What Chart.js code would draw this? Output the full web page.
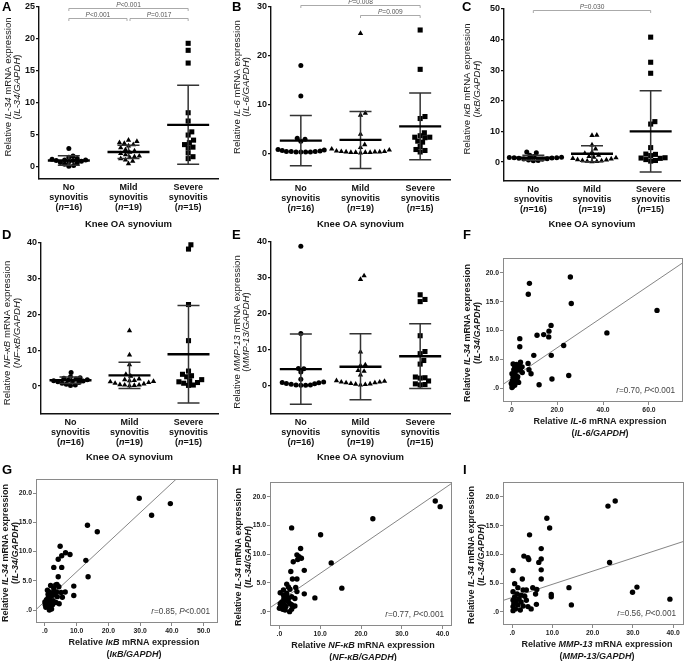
<!DOCTYPE html>
<html><head><meta charset="utf-8">
<script src="https://cdn.jsdelivr.net/npm/chart.js@4.4.0/dist/chart.umd.min.js"></script>
<style>
html,body{margin:0;padding:0;background:#fff;}
#wrap{position:relative;width:685px;height:661px;overflow:hidden;background:#fff;}
#wrap canvas{position:absolute;left:0;top:0;}
</style></head><body><div id="wrap"></div>
<script>
const FAMILY = "'Liberation Sans', Arial, Helvetica, sans-serif";
const W = 685, H = 661;

// ---------- categories ----------
const groupLabels = ['No', 'Mild', 'Severe'];
const groupWord = 'synovitis';
const groupN = [16, 19, 15];
const xGroupTitle = 'Knee OA synovium';

// ---------- A: IL-34 ----------
const aNo = [2.8, 1.6, 1.4, 1.2, 1.1, 1.0, 1.0, 0.9, 0.9, 0.8, 0.7, 0.6, 0.5, 0.3, 0.1, 0.0];
const aMild = [4.1, 3.9, 3.7, 3.6, 3.4, 3.2, 2.9, 2.6, 2.4, 2.2, 2.0, 1.8, 1.6, 1.5, 1.4, 1.2, 1.0, 0.8, 0.4];
const aSevere = [19.3, 18.2, 16.2, 8.4, 7.1, 5.4, 4.9, 4.1, 3.7, 3.4, 3.0, 2.9, 2.1, 1.5, 1.2];
const aMean = [0.9, 2.25, 6.5];
const aSD = [0.75, 1.05, 6.2];
const ticksA = [0, 5, 10, 15, 20, 25];
const aPairs = [[0, 2], [0, 1], [1, 2]];
const aP = ['<0.001', '<0.001', '=0.017'];

// ---------- B: IL-6 ----------
const bNo = [18.0, 11.8, 3.2, 3.0, 2.6, 0.9, 0.8, 0.7, 0.6, 0.5, 0.5, 0.4, 0.4, 0.4, 0.4, 0.5];
const bMild = [24.5, 8.3, 7.9, 4.0, 1.9, 1.3, 1.0, 0.8, 0.6, 0.5, 0.5, 0.4, 0.4, 0.4, 0.3, 0.3, 0.3, 0.3, 0.2];
const bSevere = [25.2, 17.2, 7.6, 7.2, 4.3, 3.7, 3.4, 3.4, 3.3, 2.6, 2.4, 1.5, 0.9, 0.7, 0.4];
const bMean = [2.7, 2.85, 5.6];
const bSD = [5.1, 5.8, 6.8];
const ticksB = [0, 10, 20, 30];
const bPairs = [[0, 2], [1, 2]];
const bP = ['=0.008', '=0.009'];

// ---------- C: IkB ----------
const cNo = [3.3, 3.0, 2.2, 1.8, 1.6, 1.5, 1.4, 1.4, 1.3, 1.2, 1.1, 1.0, 0.9, 0.7, 0.5, 0.4];
const cMild = [8.8, 8.7, 5.6, 4.3, 3.2, 2.8, 2.2, 1.8, 1.6, 1.4, 1.2, 1.0, 0.8, 0.7, 0.5, 0.4, 0.3, 0.2, 0.1];
const cSevere = [40.8, 32.6, 29.0, 13.2, 12.4, 4.7, 2.6, 2.5, 2.1, 1.4, 1.3, 1.2, 0.8, 0.5, 0.3];
const cMean = [1.4, 2.7, 10.0];
const cSD = [0.8, 2.6, 13.3];
const ticksC = [0, 10, 20, 30, 40, 50];
const cPairs = [[0, 2]];
const cP = ['=0.030'];

// ---------- D: NF-kB ----------
const dNo = [3.8, 2.6, 2.3, 2.2, 2.0, 1.8, 1.6, 1.5, 1.4, 1.3, 1.2, 1.0, 0.8, 0.5, 0.3, 0.2];
const dMild = [15.5, 8.7, 6.0, 3.3, 2.8, 2.0, 1.8, 1.6, 1.5, 1.3, 1.2, 1.0, 0.8, 0.6, 0.4, 0.3, 0.3, 0.2, 0.1];
const dSevere = [39.5, 38.3, 22.8, 12.7, 4.2, 3.3, 2.9, 2.6, 1.8, 1.5, 1.2, 1.0, 0.8, 0.3, 0.2];
const dMean = [1.65, 3.0, 8.9];
const dSD = [0.9, 3.7, 13.6];
const ticksD = [0, 10, 20, 30, 40];

// ---------- E: MMP-13 ----------
const eNo = [38.8, 14.5, 4.8, 4.7, 3.8, 1.8, 1.0, 0.8, 0.6, 0.4, 0.2, 0.1, 0.1, 0.2, 0.5, 0.9];
const eMild = [30.6, 29.6, 9.4, 5.8, 5.6, 4.2, 4.0, 3.0, 1.4, 1.2, 1.0, 0.8, 0.6, 0.4, 0.3, 0.2, 0.5, 0.8, 1.0];
const eSevere = [25.3, 24.0, 23.4, 13.9, 9.5, 8.9, 7.0, 6.0, 2.4, 2.2, 2.1, 1.3, 0.5, 0.3, 0.2];
const eMean = [4.6, 5.25, 8.2];
const eSD = [9.8, 9.2, 9.0];
const ticksE = [0, 10, 20, 30, 40];

// ---------- F: IL-34 vs IL-6 ----------
const fIL6 = [8.0, 7.5, 25.8, 26.2, 63.5, 41.7, 17.4, 16.5, 16.4, 14.2, 11.3, 3.8, 3.8, 22.9, 17.5, 9.9, 7.4, 7.8, 8.7, 25.1, 17.8, 12.2, 0.9, 2.3, 3.8, 4.8, 4.1, 4.9, 1.2, 0.4, 1.9, 0.9, 2.6, 0.6, 2.0, 1.2, 0.4, 1.6, 0.7, 0.4, 3.3, 1.2, 2.9, 0.9, 1.4, 0.1, 2.6, 3.5, 1.6, 4.1];
const fIL34 = [18.2, 16.3, 19.3, 14.7, 13.5, 9.6, 10.9, 9.9, 8.9, 9.3, 9.2, 8.6, 7.2, 7.4, 5.7, 5.7, 4.3, 3.2, 2.5, 2.2, 1.6, 0.6, 4.2, 4.1, 3.9, 3.7, 3.1, 2.7, 3.2, 2.5, 2.3, 1.9, 1.6, 1.3, 1.2, 0.9, 0.6, 0.5, 0.3, 0.1, 1.0, 1.6, 2.0, 1.0, 2.6, 0.8, 3.1, 3.7, 3.7, 4.5];
const fFit = [1.6, 0.27];
const fR = '0.70';
const xTicksF = [0, 20, 40, 60];

// ---------- G: IL-34 vs IkB ----------
const gIKB = [29.7, 39.5, 33.6, 13.4, 16.5, 12.9, 13.6, 4.8, 5.3, 4.2, 6.5, 7.9, 2.8, 5.3, 4.2, 3.8, 4.4, 9.1, 9.1, 6.4, 5.1, 5.5, 1.8, 3.4, 0.8, 1.4, 2.6, 3.1, 2.1, 1.0, 0.5, 1.6, 2.6, 3.5, 1.0, 0.3, 1.8, 0.7, 1.6, 0.3, 2.1, 1.4, 3.9, 0.0, 2.4, 3.7, 2.8, 1.0, 4.5, 0.1];
const gIL34 = [19.1, 18.2, 16.2, 14.5, 13.4, 8.5, 5.7, 10.9, 9.3, 8.7, 9.8, 9.5, 7.3, 7.3, 5.7, 4.4, 4.0, 4.1, 2.5, 3.1, 3.0, 2.2, 4.2, 4.3, 3.4, 3.1, 3.0, 2.6, 2.4, 2.1, 1.8, 1.7, 1.6, 1.3, 1.3, 1.0, 1.0, 0.7, 0.6, 0.5, 0.2, 0.0, 2.3, 1.4, 0.9, 3.1, 3.7, 2.7, 1.1, 0.9];
const gFit = [1.5, 0.505];
const gR = '0.85';
const xTicksG = [0, 10, 20, 30, 40, 50];

// ---------- H: IL-34 vs NF-kB ----------
const hNFKB = [38.2, 39.4, 22.9, 3.0, 10.1, 12.7, 15.3, 8.7, 5.2, 4.3, 4.8, 5.4, 4.5, 3.4, 6.1, 2.8, 3.2, 4.3, 4.0, 6.1, 0.2, 2.2, 2.6, 1.8, 1.0, 1.8, 1.4, 0.6, 0.2, 1.0, 2.2, 3.0, 3.4, 2.6, 1.6, 0.6, 0.0, 0.8, 2.5, 1.4, 2.2, 3.0, 3.8, 4.3, 1.1, 0.3, 1.8, 3.0, 3.8, 1.0];
const hIL34 = [19.3, 18.3, 16.2, 14.6, 13.4, 8.5, 4.1, 2.4, 11.0, 9.9, 9.6, 9.3, 9.1, 8.7, 7.2, 7.0, 5.7, 5.7, 4.2, 3.1, 3.3, 4.3, 3.9, 4.8, 2.9, 2.6, 2.0, 1.7, 1.4, 1.3, 1.7, 1.2, 0.9, 1.4, 0.9, 0.9, 0.6, 0.4, 0.0, 0.3, 2.3, 2.6, 2.3, 3.5, 2.3, 1.2, 3.2, 0.4, 1.0, 3.8];
const hFit = [1.8, 0.487];
const hR = '0.77';
const xTicksH = [0, 10, 20, 30, 40];

// ---------- I: IL-34 vs MMP-13 ----------
const iMMP13 = [25.6, 23.8, 8.6, 9.3, 4.3, 24.2, 7.2, 7.2, 2.9, 3.9, 4.1, 6.6, 7.2, 0.2, 2.5, 7.2, 5.1, 6.1, 14.1, 9.7, 9.7, 14.7, 31.0, 29.9, 39.2, 5.8, 6.0, 4.7, 3.9, 0.6, 1.4, 2.7, 3.5, 0.2, 1.2, 2.2, 3.1, 0.6, 1.7, 0.2, 1.0, 2.2, 0.4, 1.4, 2.7, 0.2, 0.8, 0.2, 2.0, 3.5];
const iIL34 = [19.3, 18.4, 16.3, 14.6, 13.4, 8.6, 11.0, 9.2, 9.7, 9.4, 9.1, 8.6, 7.3, 7.2, 5.7, 5.7, 4.2, 3.9, 4.2, 3.0, 2.6, 1.2, 4.3, 3.4, 2.2, 3.1, 1.3, 0.5, 0.9, 4.9, 4.2, 3.8, 3.8, 3.5, 3.1, 2.9, 2.7, 2.6, 2.3, 2.0, 1.9, 1.7, 1.4, 1.2, 1.0, 0.9, 0.5, 0.2, 0.3, 2.0];
const iFit = [2.5, 0.229];
const iR = '0.56';
const xTicksI = [0, 10, 20, 30, 40];

const yTicksScatter = [0, 5, 10, 15, 20];

// ---------- helpers ----------
function makeCanvas() {
  const c = document.createElement('canvas');
  c.width = W; c.height = H; c.style.width = W + 'px'; c.style.height = H + 'px';
  document.getElementById('wrap').appendChild(c);
  return c;
}
function segs(str) {
  const out = []; const re = /<i>(.*?)<\/i>/g; let last = 0, m;
  while ((m = re.exec(str))) {
    if (m.index > last) out.push({t: str.slice(last, m.index), i: false});
    out.push({t: m[1], i: true}); last = re.lastIndex;
  }
  if (last < str.length) out.push({t: str.slice(last), i: false});
  return out;
}
function drawRich(ctx, str, x, y, o) {
  const size = o.size || 9, bold = !!o.bold, color = o.color || '#111', align = o.align || 'center', rot = o.rot || 0;
  const ss = segs(str);
  const font = it => (it ? 'italic ' : '') + (bold ? 'bold ' : '') + size + 'px ' + FAMILY;
  let w = 0;
  ss.forEach(s => { ctx.font = font(s.i); s.w = ctx.measureText(s.t).width; w += s.w; });
  ctx.save();
  ctx.translate(x, y); ctx.rotate(rot);
  ctx.fillStyle = color; ctx.textBaseline = 'middle'; ctx.textAlign = 'left';
  let cx = align === 'center' ? -w / 2 : (align === 'right' ? -w : 0);
  ss.forEach(s => { ctx.font = font(s.i); ctx.fillText(s.t, cx, 0); cx += s.w; });
  ctx.restore();
}
function drawLetter(ctx, t, x, y) {
  ctx.save(); ctx.font = 'bold 13px ' + FAMILY; ctx.fillStyle = '#000';
  ctx.textBaseline = 'top'; ctx.textAlign = 'left'; ctx.fillText(t, x, y); ctx.restore();
}
function swarmOffsets(values, pxPerY, minDist, step) {
  const order = values.map((v, i) => i).sort((a, b) => values[a] - values[b]);
  const placed = []; const offs = new Array(values.length).fill(0);
  order.forEach(i => {
    const py = values[i] * pxPerY; let chosen = 0;
    for (let k = 0; k < 400; k++) {
      const cand = k === 0 ? 0 : (k % 2 ? 1 : -1) * Math.ceil(k / 2) * step;
      let ok = true;
      for (const p of placed) { const dx = p.x - cand, dy = p.y - py; if (dx * dx + dy * dy < minDist * minDist) { ok = false; break; } }
      if (ok) { chosen = cand; break; }
    }
    placed.push({x: chosen, y: py}); offs[i] = chosen;
  });
  return offs;
}

const SHAPES = ['circle', 'triangle', 'rect'];
const RADII = [2.5, 3.1, 3.6];
const SWARM_DIST = [4.3, 4.8, 4.8];

function dotChart(p) {
  const yW = 30, xH = 10;
  const pxPerY = (p.B - p.T) / (p.ymax - p.ymin);
  const pxPerX = (p.R - p.L) / 3;
  const datasets = p.groups.map((vals, g) => {
    const offs = swarmOffsets(vals, pxPerY, SWARM_DIST[g], 0.6);
    return {
      data: vals.map((v, i) => ({x: g + offs[i] / pxPerX, y: v})),
      pointStyle: SHAPES[g], pointRadius: RADII[g], pointHoverRadius: RADII[g],
      backgroundColor: '#000', borderColor: '#000', borderWidth: 0, clip: false
    };
  });
  new Chart(makeCanvas(), {
    type: 'scatter',
    data: {datasets},
    options: {
      responsive: false, animation: false, devicePixelRatio: 1, events: [],
      layout: {autoPadding: false, padding: {left: p.L - yW, right: W - p.R, top: p.T, bottom: H - p.B - xH}},
      plugins: {legend: {display: false}, tooltip: {enabled: false}},
      scales: {
        x: {type: 'linear', min: -0.5, max: 2.5, afterFit: s => { s.height = xH; },
            ticks: {display: false}, grid: {display: false},
            border: {display: true, color: '#111', width: 1.4}},
        y: {type: 'linear', min: p.ymin, max: p.ymax, afterFit: s => { s.width = yW; },
            afterBuildTicks: s => { s.ticks = p.yTicks.map(v => ({value: v})); },
            ticks: {font: {family: FAMILY, size: 9, weight: 'bold'}, color: '#111', padding: 1},
            grid: {display: true, drawOnChartArea: false, drawTicks: true, tickLength: 3, color: '#111', lineWidth: 1.2},
            border: {display: true, color: '#111', width: 1.4}}
      }
    },
    plugins: [{
      id: 'dotExtras',
      afterDatasetsDraw(chart) {
        const {ctx, scales: {x, y}} = chart;
        ctx.save();
        p.means.forEach((m, g) => {
          const cx = x.getPixelForValue(g), sd = p.sds[g];
          const yt = y.getPixelForValue(m + sd), yb = y.getPixelForValue(m - sd), ym = y.getPixelForValue(m);
          ctx.strokeStyle = '#333'; ctx.lineWidth = 1.5;
          ctx.beginPath();
          ctx.moveTo(cx, yt); ctx.lineTo(cx, yb);
          ctx.moveTo(cx - 11, yt); ctx.lineTo(cx + 11, yt);
          ctx.moveTo(cx - 11, yb); ctx.lineTo(cx + 11, yb);
          ctx.stroke();
          ctx.strokeStyle = '#000'; ctx.lineWidth = 2.4;
          ctx.beginPath(); ctx.moveTo(cx - 21, ym); ctx.lineTo(cx + 21, ym); ctx.stroke();
        });
        ctx.restore();
      },
      afterDraw(chart) {
        const {ctx, scales: {x, y}, chartArea: ca} = chart;
        groupLabels.forEach((lab, g) => {
          const cx = x.getPixelForValue(g);
          drawRich(ctx, lab, cx, ca.bottom + 9, {size: 9, bold: true, color: '#111'});
          drawRich(ctx, groupWord, cx, ca.bottom + 19, {size: 9, bold: true, color: '#111'});
          drawRich(ctx, '(<i>n</i>=' + groupN[g] + ')', cx, ca.bottom + 29, {size: 9, bold: true, color: '#111'});
        });
        drawRich(ctx, xGroupTitle, (ca.left + ca.right) / 2, p.kneeY, {size: 9.5, bold: true, color: '#111'});
        drawRich(ctx, p.title[0], p.tx[0], p.ty, {size: 9.6, color: '#1a1a1a', rot: -Math.PI / 2});
        drawRich(ctx, p.title[1], p.tx[1], p.ty, {size: 9.6, color: '#1a1a1a', rot: -Math.PI / 2});
        (p.pairs || []).forEach((pr, k) => {
          let x1 = x.getPixelForValue(pr[0]), x2 = x.getPixelForValue(pr[1]);
          const yy = Math.round(y.getPixelForValue(p.levels[k])) + 0.5;
          if (p.pairs.some((q, j) => j !== k && q[0] === pr[1] && p.levels[j] === p.levels[k])) x2 -= 1.5;
          if (p.pairs.some((q, j) => j !== k && q[1] === pr[0] && p.levels[j] === p.levels[k])) x1 += 1.5;
          ctx.save(); ctx.strokeStyle = '#a0a0a0'; ctx.lineWidth = 0.9;
          ctx.beginPath(); ctx.moveTo(x1, yy + 2.5); ctx.lineTo(x1, yy); ctx.lineTo(x2, yy); ctx.lineTo(x2, yy + 2.5); ctx.stroke();
          ctx.restore();
          drawRich(ctx, '<i>P</i>' + p.pv[k], (x1 + x2) / 2, yy - 3.8, {size: 6.6, color: '#555'});
        });
        drawLetter(ctx, p.letter, p.lx, p.ly);
      }
    }]
  });
}

function scatterChart(p) {
  const yW = 26, xH = 14;
  const fmt = v => v === 0 ? '.0' : v.toFixed(1);
  new Chart(makeCanvas(), {
    type: 'scatter',
    data: {datasets: [
      {data: p.xs.map((xv, i) => ({x: xv, y: p.ys[i]})), pointRadius: 2.7, pointHoverRadius: 2.7,
       backgroundColor: '#000', borderColor: '#000', borderWidth: 0, clip: false, order: 1},
      {type: 'line', data: [{x: p.xmin, y: p.fit[0] + p.fit[1] * p.xmin}, {x: p.xmax, y: p.fit[0] + p.fit[1] * p.xmax}],
       borderColor: '#777', borderWidth: 0.9, pointRadius: 0, fill: false, tension: 0, clip: 0, order: 2}
    ]},
    options: {
      responsive: false, animation: false, devicePixelRatio: 1, events: [],
      layout: {autoPadding: false, padding: {left: p.L - yW, right: W - p.R, top: p.T, bottom: H - p.B - xH}},
      plugins: {legend: {display: false}, tooltip: {enabled: false}},
      scales: {
        x: {type: 'linear', min: p.xmin, max: p.xmax, afterFit: s => { s.height = xH; },
            afterBuildTicks: s => { s.ticks = p.xTicks.map(v => ({value: v})); },
            ticks: {callback: fmt, font: {family: FAMILY, size: 6.8, weight: 'bold'}, color: '#222', padding: 1, maxRotation: 0},
            grid: {display: true, drawOnChartArea: false, drawTicks: true, tickLength: 3, color: '#888', lineWidth: 1},
            border: {display: false}},
        y: {type: 'linear', min: p.ymin, max: p.ymax, afterFit: s => { s.width = yW; },
            afterBuildTicks: s => { s.ticks = yTicksScatter.map(v => ({value: v})); },
            ticks: {callback: fmt, font: {family: FAMILY, size: 6.8, weight: 'bold'}, color: '#222', padding: 1},
            grid: {display: true, drawOnChartArea: false, drawTicks: true, tickLength: 3, color: '#888', lineWidth: 1},
            border: {display: false}}
      }
    },
    plugins: [{
      id: 'scatterExtras',
      afterDraw(chart) {
        const {ctx, chartArea: ca} = chart;
        ctx.save(); ctx.strokeStyle = '#8a8a8a'; ctx.lineWidth = 1;
        ctx.strokeRect(Math.round(ca.left) + 0.5, Math.round(ca.top) + 0.5, Math.round(ca.width) - 1, Math.round(ca.height) - 1);
        ctx.restore();
        drawRich(ctx, '<i>r</i>=' + p.r + ', <i>P</i><0.001', ca.right - 8, ca.bottom - 11, {size: 8.2, color: '#444', align: 'right'});
        drawRich(ctx, p.xTitle[0], p.xtx, ca.bottom + 20, {size: 9, bold: true, color: '#1a1a1a'});
        drawRich(ctx, p.xTitle[1], p.xtx, ca.bottom + 31.5, {size: 9, bold: true, color: '#1a1a1a'});
        drawRich(ctx, 'Relative <i>IL-34</i> mRNA expression', p.ytx[0], p.yty, {size: 9, bold: true, color: '#1a1a1a', rot: -Math.PI / 2});
        drawRich(ctx, '(<i>IL-34/GAPDH</i>)', p.ytx[1], p.yty, {size: 9, bold: true, color: '#1a1a1a', rot: -Math.PI / 2});
        drawLetter(ctx, p.letter, p.lx, p.ly);
      }
    }]
  });
}

// ---------- panels ----------
dotChart({L: 39, R: 218, T: 7, B: 179, ymin: -2, ymax: 25, yTicks: ticksA,
  groups: [aNo, aMild, aSevere], means: aMean, sds: aSD,
  title: ['Relative <i>IL-34</i> mRNA expression', '(<i>IL-34/GAPDH</i>)'], tx: [8, 17.5], ty: 87,
  pairs: aPairs, pv: aP, levels: [24.8, 23.2, 23.2], kneeY: 224, letter: 'A', lx: 2, ly: 1});

dotChart({L: 271, R: 450, T: 6, B: 180, ymin: -5.3, ymax: 30, yTicks: ticksB,
  groups: [bNo, bMild, bSevere], means: bMean, sds: bSD,
  title: ['Relative <i>IL-6</i> mRNA expression', '(<i>IL-6/GAPDH</i>)'], tx: [237, 246], ty: 87,
  pairs: bPairs, pv: bP, levels: [30.2, 28.2], kneeY: 224, letter: 'B', lx: 232, ly: 1});

dotChart({L: 504, R: 680, T: 9, B: 181, ymin: -6.2, ymax: 50, yTicks: ticksC,
  groups: [cNo, cMild, cSevere], means: cMean, sds: cSD,
  title: ['Relative <i>IκB</i> mRNA expression', '(<i>IκB/GAPDH</i>)'], tx: [467.5, 477], ty: 89,
  pairs: cPairs, pv: cP, levels: [49.7], kneeY: 224, letter: 'C', lx: 462, ly: 1});

dotChart({L: 41, R: 218, T: 243, B: 414, ymin: -7.8, ymax: 40, yTicks: ticksD,
  groups: [dNo, dMild, dSevere], means: dMean, sds: dSD,
  title: ['Relative <i>NF-κB</i> mRNA expression', '(<i>NF-κB/GAPDH</i>)'], tx: [7.5, 17], ty: 333,
  kneeY: 457, letter: 'D', lx: 2, ly: 229});

dotChart({L: 271, R: 450, T: 242, B: 414, ymin: -7.9, ymax: 40, yTicks: ticksE,
  groups: [eNo, eMild, eSevere], means: eMean, sds: eSD,
  title: ['Relative <i>MMP-13</i> mRNA expression', '(<i>MMP-13/GAPDH</i>)'], tx: [237, 246.5], ty: 332,
  kneeY: 457, letter: 'E', lx: 232, ly: 229});

scatterChart({L: 503, R: 683, T: 258, B: 402, xmin: -3.5, xmax: 74.8, ymin: -2.4, ymax: 22.6,
  xs: fIL6, ys: fIL34, fit: fFit, r: fR, xTicks: xTicksF,
  xTitle: ['Relative <i>IL-6</i> mRNA expression', '(<i>IL-6/GAPDH</i>)'], xtx: 600,
  ytx: [468, 478], yty: 333, letter: 'F', lx: 463, ly: 229});

scatterChart({L: 36, R: 218, T: 479, B: 623, xmin: -2.8, xmax: 54.5, ymin: -2.2, ymax: 22.4,
  xs: gIKB, ys: gIL34, fit: gFit, r: gR, xTicks: xTicksG,
  xTitle: ['Relative <i>IκB</i> mRNA expression', '(<i>IκB/GAPDH</i>)'], xtx: 134,
  ytx: [6, 15.5], yty: 553, letter: 'G', lx: 2, ly: 464});

scatterChart({L: 270, R: 452, T: 482, B: 626, xmin: -2.3, xmax: 42.3, ymin: -2.5, ymax: 22.6,
  xs: hNFKB, ys: hIL34, fit: hFit, r: hR, xTicks: xTicksH,
  xTitle: ['Relative <i>NF-κB</i> mRNA expression', '(<i>NF-κB/GAPDH</i>)'], xtx: 363,
  ytx: [239, 248.5], yty: 557, letter: 'H', lx: 232, ly: 464});

scatterChart({L: 503, R: 684, T: 482, B: 625, xmin: -2.3, xmax: 42.7, ymin: -2.3, ymax: 22.6,
  xs: iMMP13, ys: iIL34, fit: iFit, r: iR, xTicks: xTicksI,
  xTitle: ['Relative <i>MMP-13</i> mRNA expression', '(<i>MMP-13/GAPDH</i>)'], xtx: 597,
  ytx: [472, 481.5], yty: 555, letter: 'I', lx: 463, ly: 464});
</script></body></html>
